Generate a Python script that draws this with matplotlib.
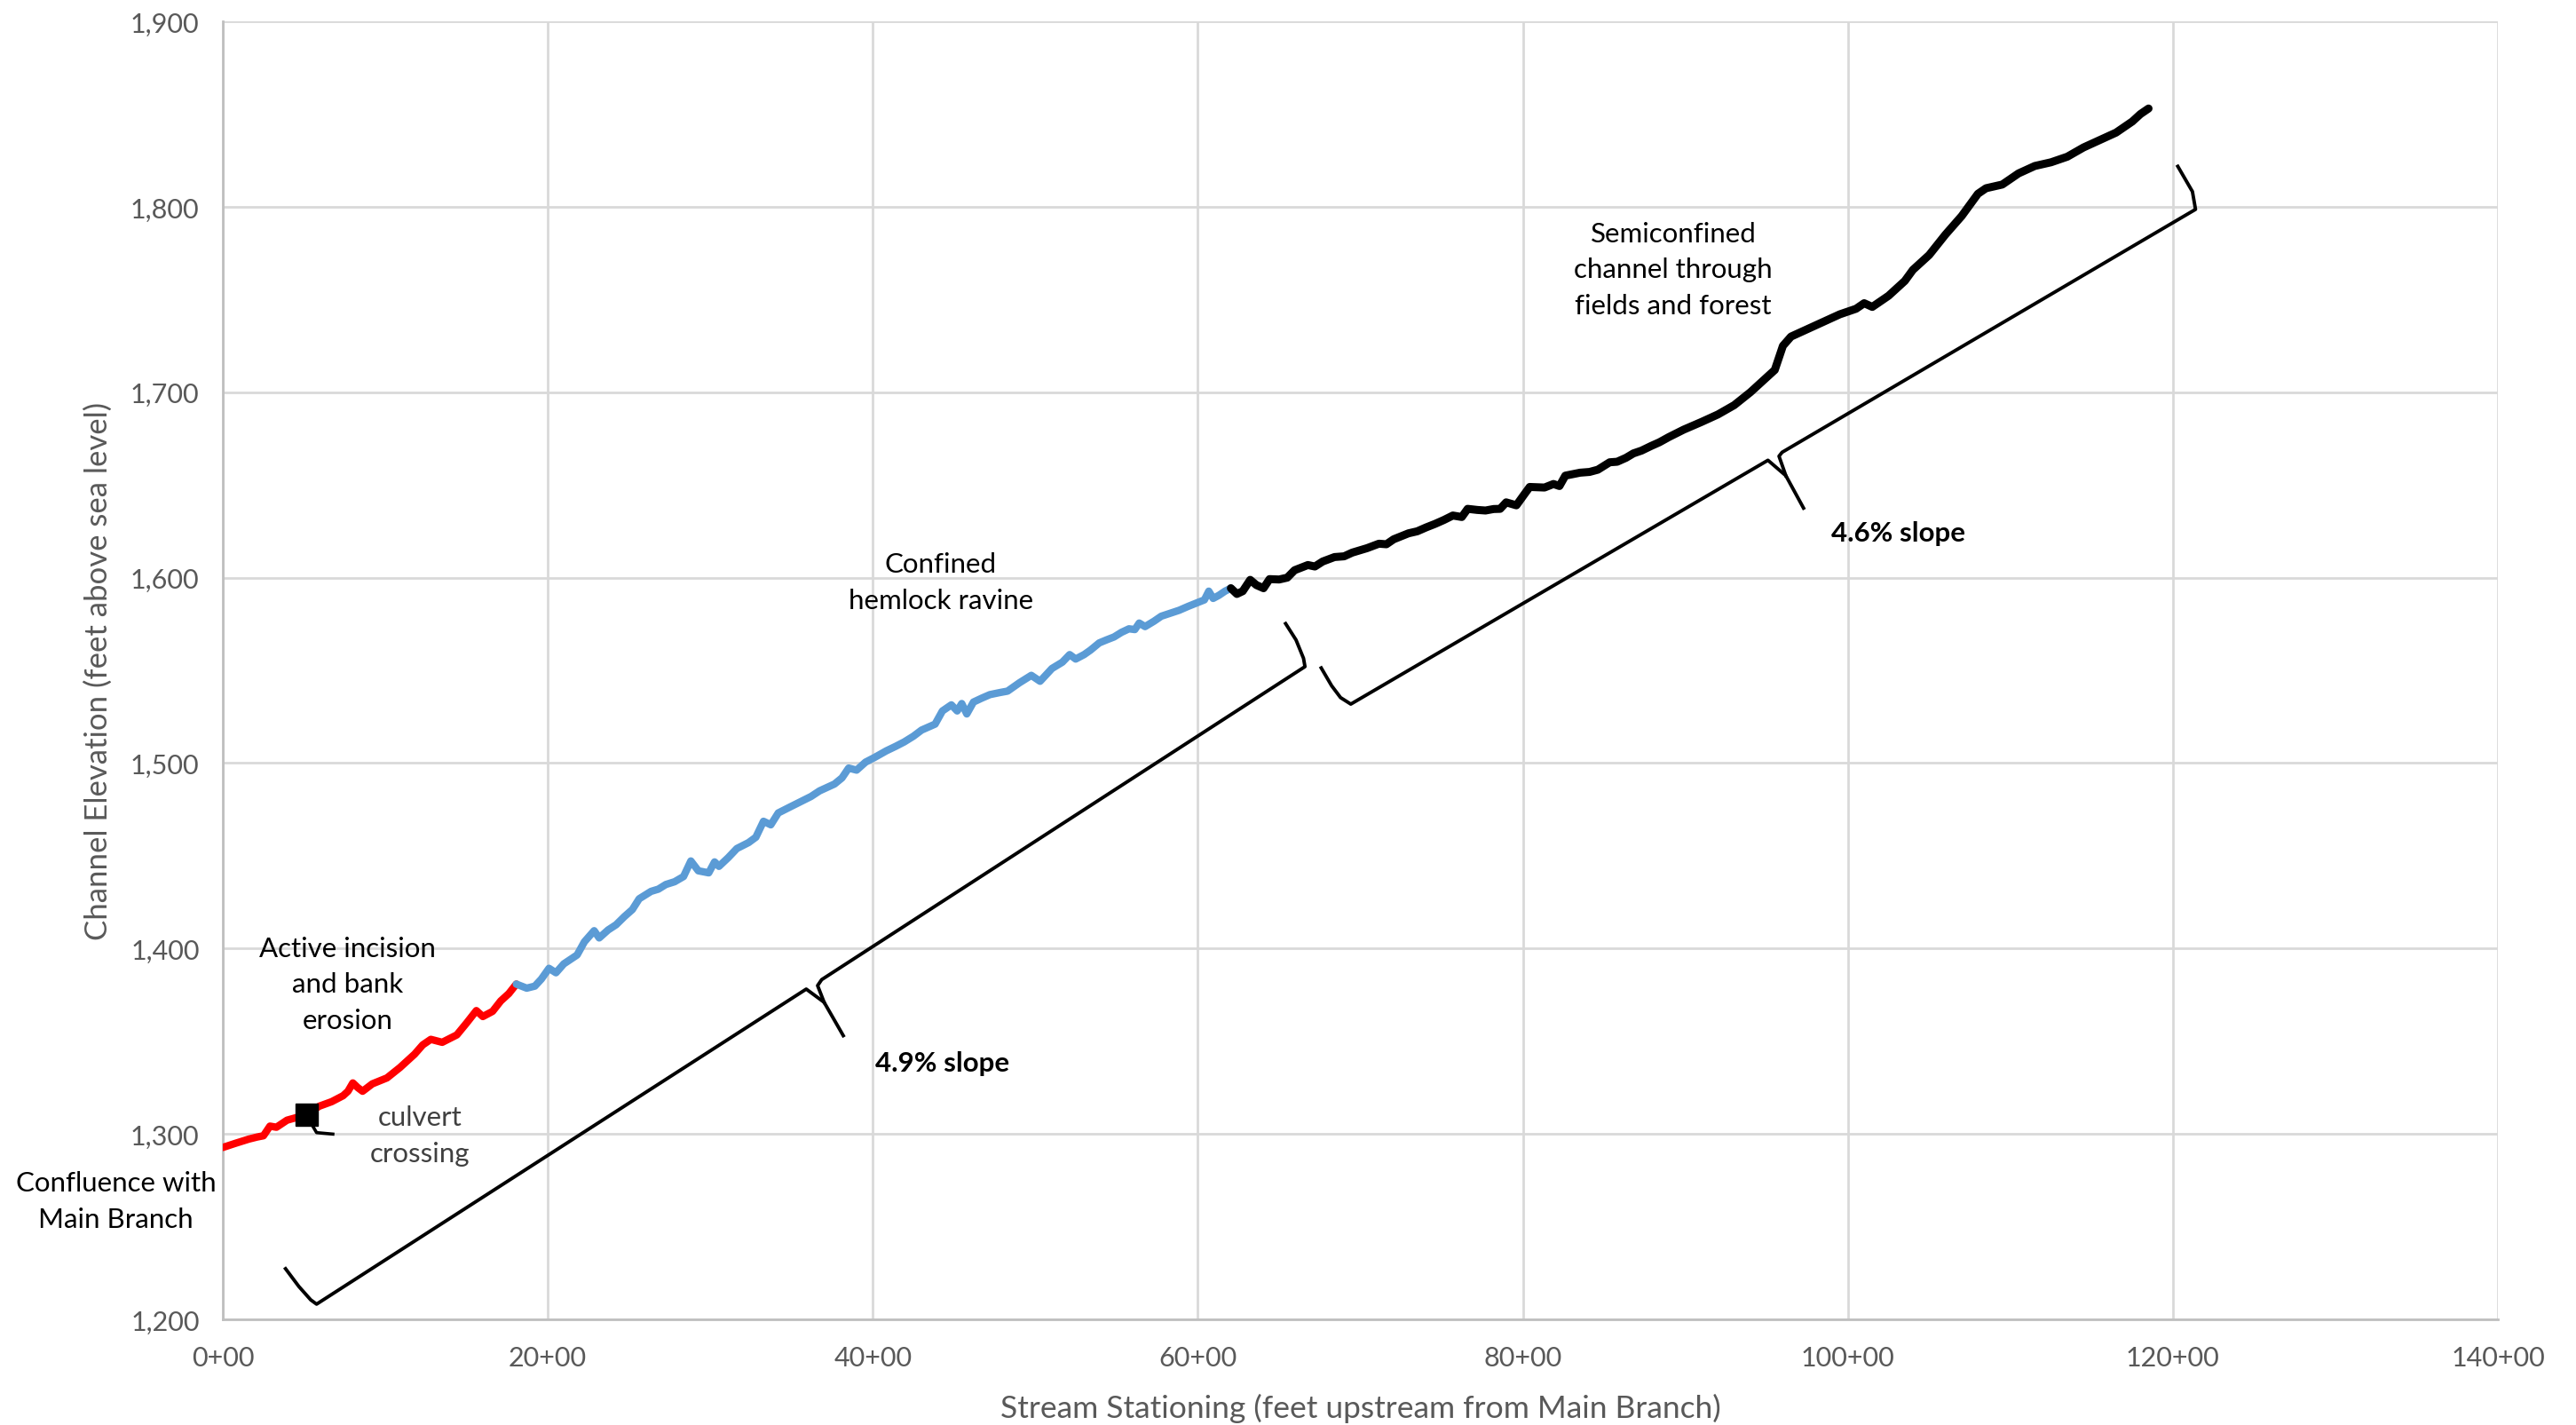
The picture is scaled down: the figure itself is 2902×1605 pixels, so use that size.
import matplotlib
matplotlib.use("Agg")
import matplotlib.pyplot as plt
from matplotlib.ticker import FuncFormatter

plt.rcParams['font.family'] = ['Lato', 'DejaVu Sans']

# channel profile, station in hundreds of feet, elevation in feet
red_sta = [0.0, 0.8, 1.6, 2.1, 2.5, 2.9, 3.3, 3.95, 4.6, 5.1,
           5.95, 6.7, 7.4, 7.7, 8.0, 8.3, 8.6, 9.2, 10.1, 10.9,
           11.8, 12.3, 12.8, 13.5, 14.4, 15.0, 15.6, 16.0, 16.6, 17.1,
           17.6, 18.06]
red_elev = [1292.7, 1295, 1297.2, 1298.3, 1299, 1304.2, 1303.6, 1307.4, 1309, 1310.6,
            1315, 1317.4, 1320.6, 1323, 1327.5, 1325, 1323, 1327, 1330.2, 1335.8,
            1343, 1348, 1351, 1349.4, 1353.4, 1359.8, 1366.5, 1363.3, 1366.1, 1371.7,
            1375.7, 1380.8]

blue_sta = [18.06, 18.7, 19.2, 19.6, 20.07, 20.5, 20.98, 21.8, 22.25, 22.85,
            23.16, 23.71, 24.2, 24.71, 25.2, 25.62, 26.35, 26.8, 27.26, 27.8,
            28.35, 28.8, 29.26, 29.9, 30.26, 30.53, 31.1, 31.63, 32.35, 32.8,
            33.27, 33.72, 34.18, 34.9, 35.63, 36.2, 36.72, 37.64, 38.1, 38.51,
            39.0, 39.55, 40.1, 40.83, 41.4, 41.93, 42.5, 43.0, 43.83, 44.28,
            44.83, 45.19, 45.47, 45.78, 46.19, 46.7, 47.2, 47.8, 48.29, 49.02,
            49.75, 50.29, 51.02, 51.66, 52.11, 52.48, 53.0, 53.39, 53.93, 54.4,
            54.84, 55.3, 55.76, 56.12, 56.39, 56.75, 57.3, 57.75, 58.3, 58.85,
            59.4, 59.94, 60.4, 60.67, 60.94, 61.3, 61.67, 62.03]
blue_elev = [1380.8, 1378.6, 1379.7, 1383.5, 1389.3, 1386.9, 1391.7, 1396.5, 1403.6, 1409.6,
             1405.7, 1410, 1412.8, 1417.2, 1421, 1426.8, 1430.8, 1432, 1434.5, 1436,
             1438.8, 1447.2, 1441.9, 1440.8, 1446.7, 1444.3, 1449, 1453.9, 1457.1, 1460,
             1468.6, 1466.7, 1473.1, 1476.3, 1479.5, 1482, 1485, 1488.7, 1492, 1497.3,
             1496.2, 1500.5, 1503, 1506.6, 1509, 1511.4, 1514.5, 1517.8, 1521, 1528.1,
             1531.4, 1528.1, 1532.1, 1526.5, 1532.9, 1535, 1536.9, 1538, 1538.8, 1543.3,
             1547.3, 1544.1, 1551, 1554.4, 1558.5, 1556.1, 1558.5, 1560.9, 1564.8, 1566.5,
             1568, 1570.5, 1572.4, 1572, 1575.5, 1573.6, 1576.5, 1579.2, 1580.8, 1582.4,
             1584.5, 1586.4, 1588, 1592.7, 1588.8, 1590.5, 1592.7, 1594.3]

black_sta = [62.03, 62.4, 62.76, 63.22, 63.6, 64.04, 64.41, 65.0, 65.5, 65.95,
             66.77, 67.2, 67.68, 68.41, 69.0, 69.5, 70.41, 71.14, 71.6, 72.05,
             72.96, 73.5, 74.05, 74.6, 75.14, 75.69, 76.24, 76.6, 77.2, 77.7,
             78.2, 78.6, 78.97, 79.6, 80.06, 80.42, 81.33, 81.88, 82.25, 82.61,
             83.52, 84.1, 84.61, 85.34, 85.8, 86.34, 86.8, 87.3, 87.89, 88.4,
             88.98, 89.89, 91.0, 92.0, 93.0, 94.0, 95.0, 95.5, 96.0, 96.5,
             97.5, 98.5, 99.5, 100.5, 101.0, 101.5, 102.5, 103.5, 104.0, 105.0,
             106.0, 107.0, 108.0, 108.5, 109.5, 110.5, 111.5, 112.5, 113.5, 114.5,
             115.5, 116.5, 117.5, 118.0, 118.5]
black_elev = [1594.3, 1591.2, 1592.7, 1598.8, 1596, 1594.3, 1599.2, 1599, 1600, 1604,
              1606.8, 1606, 1608.7, 1611.1, 1611.5, 1613.5, 1615.9, 1618.3, 1618, 1620.7,
              1623.9, 1625, 1627.1, 1629, 1631.1, 1633.5, 1632.7, 1637.1, 1636.5, 1636.2,
              1637, 1637.1, 1640.6, 1639, 1644.6, 1648.9, 1648.6, 1650.5, 1649.4, 1655,
              1656.6, 1657, 1658.2, 1662.2, 1662.5, 1664.6, 1667, 1668.5, 1671, 1673,
              1675.8, 1679.8, 1684, 1688, 1693, 1700, 1708, 1712, 1725, 1730,
              1734, 1738, 1742, 1745, 1748, 1746, 1752, 1760, 1766, 1774,
              1785, 1795, 1807, 1810, 1812, 1818, 1822, 1824, 1827, 1832,
              1836, 1840, 1846, 1850, 1853]

culvert_sta = [5.13]
culvert_elev = [1310.6]
culvert_tick_sta = [5.5, 5.77, 6.77]
culvert_tick_elev = [1304.7, 1300.7, 1299.9]

# slope braces drawn as two strokes each
brace1a_sta = [3.86, 4.68, 5.41, 5.77, 35.9, 37.0, 38.18]
brace1a_elev = [1227.3, 1217.7, 1210.5, 1208.2, 1378.1, 1371.0, 1353.0]
brace1b_sta = [37.0, 36.6, 36.85, 66.59, 66.5, 66.04, 65.4]
brace1b_elev = [1371.0, 1380.0, 1383.2, 1552.0, 1556.5, 1566.4, 1575.2]
brace2a_sta = [67.59, 68.23, 68.78, 69.41, 95.08, 96.18, 97.27]
brace2a_elev = [1551.3, 1541.7, 1535.3, 1531.8, 1663.3, 1655.0, 1637.5]
brace2b_sta = [96.18, 95.76, 95.95, 121.39, 121.2, 120.3]
brace2b_elev = [1655.0, 1665.5, 1667.6, 1798.6, 1808.2, 1821.8]

fig = plt.figure(figsize=(29.02, 16.06), dpi=100)
ax = fig.add_axes([0.0865, 0.0741, 0.8832, 0.9103])

ax.plot(red_sta, red_elev, color='#FF0000', lw=6, solid_joinstyle='round', solid_capstyle='round', zorder=3)
ax.plot(blue_sta, blue_elev, color='#5B9BD5', lw=6, solid_joinstyle='round', solid_capstyle='round', zorder=3)
ax.plot(black_sta, black_elev, color='black', lw=6.5, solid_joinstyle='round', solid_capstyle='round', zorder=3)
ax.plot(culvert_sta, culvert_elev, 's', color='black', ms=18, zorder=4)
ax.plot(culvert_tick_sta, culvert_tick_elev, color='black', lw=2.6, zorder=3)

for bs, be in [(brace1a_sta, brace1a_elev), (brace1b_sta, brace1b_elev),
               (brace2a_sta, brace2a_elev), (brace2b_sta, brace2b_elev)]:
    ax.plot(bs, be, color='black', lw=2.8, solid_joinstyle='round', zorder=3)

ax.set_xlim(0, 140)
ax.set_ylim(1200, 1900)
ax.set_xticks(range(0, 141, 20))
ax.set_yticks(range(1200, 1901, 100))
ax.xaxis.set_major_formatter(FuncFormatter(lambda v, p: f"{int(v)}+00"))
ax.yaxis.set_major_formatter(FuncFormatter(lambda v, p: f"{int(v):,}"))
ax.tick_params(axis='both', length=0, labelsize=22, labelcolor='#595959')
ax.tick_params(axis='y', pad=19)
ax.tick_params(axis='x', pad=21)
ax.grid(True, color='#D9D9D9', lw=2)
ax.set_axisbelow(True)
for s in ['top', 'right']:
    ax.spines[s].set_visible(False)
for s in ['left', 'bottom']:
    ax.spines[s].set_color('#BFBFBF')
    ax.spines[s].set_linewidth(2)

fig.text(1533 / 2902, 1 - 1586 / 1606, 'Stream Stationing (feet upstream from Main Branch)',
         ha='center', va='center', fontsize=25.5, color='#595959')
fig.text(111 / 2902, 1 - 756 / 1606, 'Channel Elevation (feet above sea level)',
         ha='center', va='center', rotation=90, fontsize=25, color='#595959')

txt = dict(ha='center', va='center', fontsize=22.5, linespacing=1.55, zorder=5)
ax.text(-6.57, 1263.8, 'Confluence with\nMain Branch', color='black', clip_on=False, **txt)
ax.text(7.68, 1380.8, 'Active incision\nand bank\nerosion', color='black', **txt)
ax.text(12.13, 1299.2, 'culvert\ncrossing', color='#404040', **txt)
ax.text(44.17, 1597.8, 'Confined\nhemlock ravine', color='black', **txt)
ax.text(89.25, 1766.2, 'Semiconfined\nchannel through\nfields and forest', color='black', **txt)
ax.text(44.27, 1338.2, '4.9% slope', color='black', fontweight='bold', **txt)
ax.text(103.1, 1624.4, '4.6% slope', color='black', fontweight='bold', **txt)

fig.savefig('out.png', dpi=100)
